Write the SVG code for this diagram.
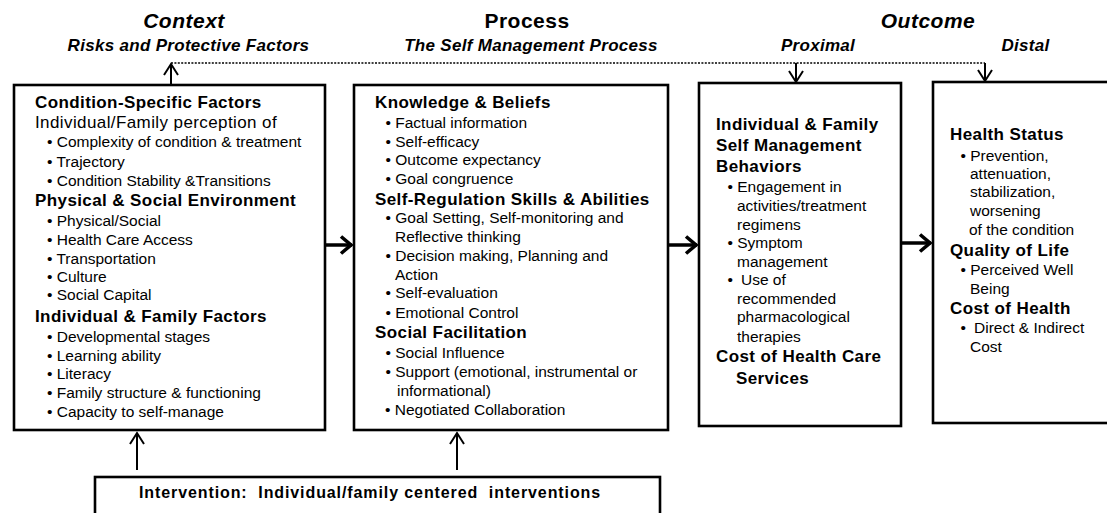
<svg xmlns="http://www.w3.org/2000/svg" width="1107" height="513" viewBox="0 0 1107 513">
<style>
text{font-family:"Liberation Sans",Arial,Helvetica,sans-serif;fill:#000}
.t{font-size:21px;font-weight:bold;letter-spacing:0.5px}
.ti{font-size:21px;font-weight:bold;font-style:italic;letter-spacing:0.5px}
.s{font-size:17px;font-weight:bold;font-style:italic;letter-spacing:0.3px}
.h{font-size:17px;font-weight:bold;letter-spacing:0.4px}
.r{font-size:17px;letter-spacing:0.4px}
.b{font-size:15.5px}
.iv{font-size:16px;font-weight:bold;letter-spacing:0.9px;white-space:pre}
.box{fill:#fff;stroke:#000;stroke-width:2.6}
.ln{fill:none;stroke:#000;stroke-width:2}
.thick{fill:none;stroke:#000;stroke-width:3.5}
.dot{fill:none;stroke:#000;stroke-width:1.5;stroke-dasharray:2 1.4}
</style>
<defs>
<marker id="chev" markerUnits="userSpaceOnUse" viewBox="-14 -10 16 20" refX="0" refY="0" markerWidth="16" markerHeight="20" orient="auto">
<path d="M-11,-7 L0,0 L-11,7" fill="none" stroke="#000" stroke-width="2"/>
</marker>
<marker id="chevB" markerUnits="userSpaceOnUse" viewBox="-16 -12 18 24" refX="0" refY="0" markerWidth="18" markerHeight="24" orient="auto">
<path d="M-11,-8.5 L-1,0 L-11,8.5" fill="none" stroke="#000" stroke-width="3.6"/>
</marker>
</defs>

<g id="headers">
<text class="ti" x="184" y="28" text-anchor="middle">Context</text>
<text class="t" x="527" y="28" text-anchor="middle">Process</text>
<text class="ti" x="928" y="28" text-anchor="middle">Outcome</text>
<text class="s" x="188.5" y="51" text-anchor="middle">Risks and Protective Factors</text>
<text class="s" x="531" y="51" text-anchor="middle">The Self Management Process</text>
<text class="s" x="818" y="51" text-anchor="middle">Proximal</text>
<text class="s" x="1025.5" y="51" text-anchor="middle">Distal</text>
</g>

<g id="connectors">
<path class="dot" d="M171,63 H985"/>
<path class="ln" d="M171,85 V64" marker-end="url(#chev)"/>
<path class="ln" d="M796,63 V82" marker-end="url(#chev)"/>
<path class="ln" d="M985,63 V81" marker-end="url(#chev)"/>
<path class="thick" d="M326,245 H352" marker-end="url(#chevB)"/>
<path class="thick" d="M669,245 H697" marker-end="url(#chevB)"/>
<path class="thick" d="M902,243 H931" marker-end="url(#chevB)"/>
<path class="ln" d="M137,470 V433" marker-end="url(#chev)"/>
<path class="ln" d="M457,470 V433" marker-end="url(#chev)"/>
</g>

<g id="context-box">
<rect class="box" x="14" y="85" width="311" height="345"/>
<text class="h" x="35" y="108">Condition-Specific Factors</text>
<text class="r" x="35" y="128">Individual/Family perception of</text>
<text class="b" x="47" y="147">• Complexity of condition &amp; treatment</text>
<text class="b" x="47" y="167">• Trajectory</text>
<text class="b" x="47" y="185.5">• Condition Stability &amp;Transitions</text>
<text class="h" x="35" y="206">Physical &amp; Social Environment</text>
<text class="b" x="47" y="225.5">• Physical/Social</text>
<text class="b" x="47" y="245">• Health Care Access</text>
<text class="b" x="47" y="264">• Transportation</text>
<text class="b" x="47" y="282">• Culture</text>
<text class="b" x="47" y="300">• Social Capital</text>
<text class="h" x="35" y="322">Individual &amp; Family Factors</text>
<text class="b" x="47" y="341.5">• Developmental stages</text>
<text class="b" x="47" y="360.5">• Learning ability</text>
<text class="b" x="47" y="379">• Literacy</text>
<text class="b" x="47" y="398">• Family structure &amp; functioning</text>
<text class="b" x="47" y="417">• Capacity to self-manage</text>
</g>

<g id="process-box">
<rect class="box" x="354" y="85" width="314" height="345"/>
<text class="h" x="375" y="108">Knowledge &amp; Beliefs</text>
<text class="b" x="385.5" y="128">• Factual information</text>
<text class="b" x="385.5" y="146.5">• Self-efficacy</text>
<text class="b" x="385.5" y="165">• Outcome expectancy</text>
<text class="b" x="385.5" y="184">• Goal congruence</text>
<text class="h" x="375" y="204.5">Self-Regulation Skills &amp; Abilities</text>
<text class="b" x="385.5" y="223">• Goal Setting, Self-monitoring and</text>
<text class="b" x="395" y="242">Reflective thinking</text>
<text class="b" x="385.5" y="260.5">• Decision making, Planning and</text>
<text class="b" x="395" y="280">Action</text>
<text class="b" x="385.5" y="298">• Self-evaluation</text>
<text class="b" x="385.5" y="318">• Emotional Control</text>
<text class="h" x="375" y="338">Social Facilitation</text>
<text class="b" x="385.5" y="358">• Social Influence</text>
<text class="b" x="385.5" y="376.5">• Support (emotional, instrumental or</text>
<text class="b" x="397" y="395.5">informational)</text>
<text class="b" x="385" y="414.5">• Negotiated Collaboration</text>
</g>

<g id="proximal-box">
<rect class="box" x="699" y="83" width="202" height="343"/>
<text class="h" x="716" y="129.5">Individual &amp; Family</text>
<text class="h" x="716" y="150.5">Self Management</text>
<text class="h" x="716" y="172">Behaviors</text>
<text class="b" x="727.5" y="192">• Engagement in</text>
<text class="b" x="737" y="210.5">activities/treatment</text>
<text class="b" x="737" y="229.5">regimens</text>
<text class="b" x="727.5" y="248">• Symptom</text>
<text class="b" x="737" y="266.5">management</text>
<text class="b" x="727.5" y="285">•<tspan x="741">Use of</tspan></text>
<text class="b" x="737" y="304">recommended</text>
<text class="b" x="737" y="322">pharmacological</text>
<text class="b" x="737" y="341.5">therapies</text>
<text class="h" x="716" y="362">Cost of Health Care</text>
<text class="h" x="736" y="383.5">Services</text>
</g>

<g id="distal-box">
<rect class="box" x="933" y="82" width="190" height="341"/>
<text class="h" x="950" y="140">Health Status</text>
<text class="b" x="960.5" y="160.5">• Prevention,</text>
<text class="b" x="970" y="179">attenuation,</text>
<text class="b" x="970" y="197">stabilization,</text>
<text class="b" x="970" y="216">worsening</text>
<text class="b" x="969" y="235">of the condition</text>
<text class="h" x="950" y="255.5">Quality of Life</text>
<text class="b" x="960.5" y="275">• Perceived Well</text>
<text class="b" x="970" y="294">Being</text>
<text class="h" x="950" y="313.5">Cost of Health</text>
<text class="b" x="960.5" y="333">•<tspan x="974">Direct &amp; Indirect</tspan></text>
<text class="b" x="970" y="352">Cost</text>
</g>

<g id="intervention-box">
<rect class="box" x="95" y="477" width="565" height="60"/>
<text class="iv" x="139" y="497.5" xml:space="preserve">Intervention:  Individual/family centered  interventions</text>
</g>
</svg>
